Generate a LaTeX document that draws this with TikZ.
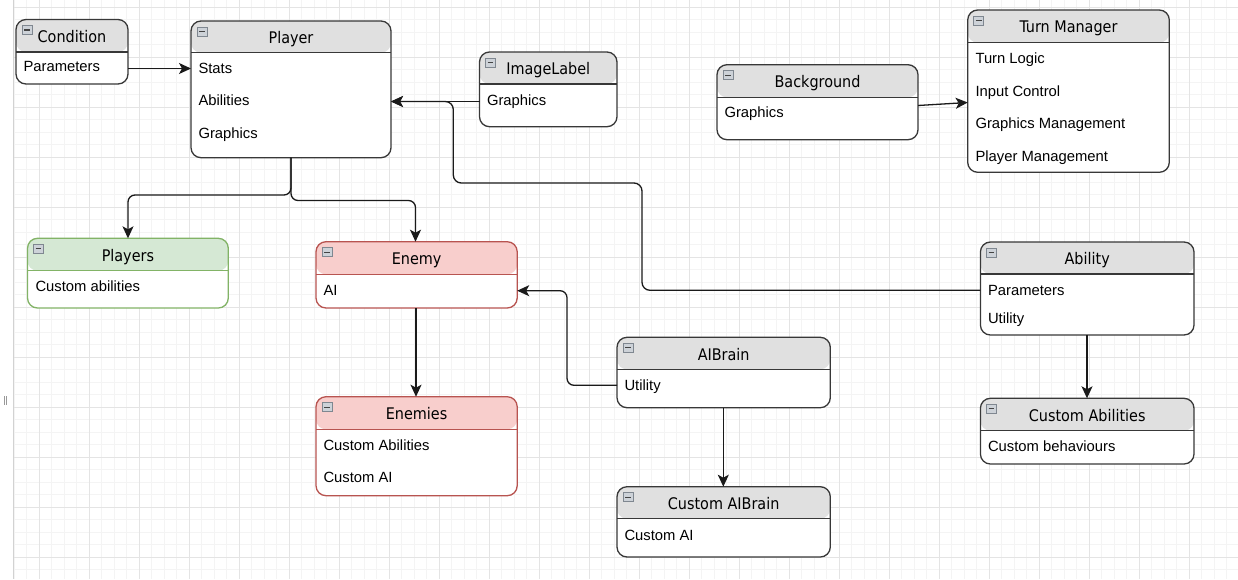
\documentclass[tikz,border=0pt]{standalone}
\usepackage{fontspec}
\setmainfont{Liberation Sans}
\newfontfamily\hdrfont{DejaVu Sans Condensed}
\usetikzlibrary{arrows.meta}
\definecolor{bordc}{HTML}{383838}
\definecolor{hdrgray}{HTML}{E0E0E0}
\definecolor{grnfill}{HTML}{D5E8D4}
\definecolor{grnline}{HTML}{82B366}
\definecolor{redfill}{HTML}{F8CECC}
\definecolor{redline}{HTML}{B85450}
\definecolor{gridmaj}{HTML}{E4E4E4}
\definecolor{gridmin}{HTML}{F4F4F4}
\definecolor{icfill}{HTML}{CDD2D8}
\definecolor{icline}{HTML}{7F8790}
\definecolor{icminus}{HTML}{444444}
\definecolor{connc}{HTML}{1A1A1A}
\tikzset{
  umlbody/.style={rectangle, rounded corners=10pt, fill=white, line width=1.3pt, inner sep=0pt, outer sep=0pt},
  umltitle/.style={inner sep=0pt, outer sep=0pt, font=\hdrfont\fontsize{16}{18}\selectfont, text=black},
  umlitem/.style={inner sep=0pt, outer sep=0pt, font=\fontsize{14.8}{17}\selectfont, text=black},
  umlicon/.style={rectangle, minimum width=10pt, minimum height=9pt, inner sep=0pt, fill=icfill, draw=icline, line width=0.8pt,
    path picture={\draw[color=icminus, line width=1.3pt] ([xshift=2.2pt]path picture bounding box.west) -- ([xshift=-2.2pt]path picture bounding box.east);}},
  conn/.style={draw=connc, line width=1.3pt, -{Stealth[length=12pt,width=11pt,inset=3pt]}},
  plainconn/.style={draw=connc, line width=1.3pt},
}
\newcommand\umlbox[9]{%
  \pgfmathsetmacro\ubw{#4-#2}%
  \pgfmathsetmacro\ubh{#5-#3}%
  \pgfmathsetmacro\ubhh{#6-#3}%
  \pgfmathsetmacro\ubcx{(#2+#4)/2}%
  \pgfmathsetmacro\ubcy{(#3+#5)/2}%
  \node[umlbody, draw=#9, minimum width=\ubw pt, minimum height=\ubh pt,
    path picture={\fill[#8] (path picture bounding box.north west) rectangle ([yshift=-\ubhh pt]path picture bounding box.north east);
      \draw[#9, line width=1.3pt] ([yshift=-\ubhh pt]path picture bounding box.north west) -- ([yshift=-\ubhh pt]path picture bounding box.north east);}]
    (#1) at (\ubcx,\ubcy) {};
  \node[umltitle, anchor=base] (#1-t) at (\ubcx, #3+22.7) {#7};
  \node[umlicon] (#1-i) at (#2+11, #3+10.5) {};
}
\newcommand\uitem[4]{\node[umlitem, anchor=base west] (#1) at (#2,#3) {#4};}
\begin{document}
\begin{tikzpicture}[x=1pt,y=-1pt]
\useasboundingbox (0,0) rectangle (1238,579);
\fill[white] (0,0) rectangle (1238,579);
% grid
\foreach \k in {0,...,97} {\draw[gridmin, line width=1pt] ({14.3+12.5*\k},0) -- ({14.3+12.5*\k},579);}
\foreach \k in {0,...,46} {\draw[gridmin, line width=1pt] (13.3,{7.3+12.5*\k}) -- (1238,{7.3+12.5*\k});}
\foreach \k in {0,...,23} {\draw[gridmaj, line width=1pt] ({39.3+50*\k},0) -- ({39.3+50*\k},579);}
\foreach \k in {0,...,11} {\draw[gridmaj, line width=1pt] (13.3,{7.3+50*\k}) -- (1238,{7.3+50*\k});}
\draw[color=gray!35, line width=1pt] (13.3,0) -- (13.3,579);
% small handle at left edge
\draw[color=gray!80, line width=0.8pt] (4.3,396) -- (4.3,405) (6.5,396) -- (6.5,405);

% boxes
\umlbox{cond}{16}{19.5}{128}{84}{52}{Condition}{hdrgray}{bordc}
\uitem{condpar}{23.5}{71.7}{Parameters}

\umlbox{player}{191}{21}{391}{157.7}{52.7}{Player}{hdrgray}{bordc}
\uitem{pstats}{198.5}{73.3}{Stats}
\uitem{pabil}{198.5}{105.8}{Abilities}
\uitem{pgraph}{198.5}{138.2}{Graphics}

\umlbox{ilabel}{479.5}{52}{617}{126.7}{84}{ImageLabel}{hdrgray}{bordc}
\uitem{ilgraph}{487}{105}{Graphics}

\umlbox{bg}{717}{64.7}{918}{139.7}{97.3}{Background}{hdrgray}{bordc}
\uitem{bggraph}{724.5}{117.3}{Graphics}

\umlbox{tm}{967.7}{10}{1169.3}{172.3}{42.7}{Turn Manager}{hdrgray}{bordc}
\uitem{tm1}{975.5}{63.3}{Turn Logic}
\uitem{tm2}{975.5}{96}{Input Control}
\uitem{tm3}{975.5}{128.3}{Graphics Management}
\uitem{tm4}{975.5}{161}{Player Management}

\umlbox{players}{27.5}{238.3}{228.3}{308}{270.7}{Players}{grnfill}{grnline}
\uitem{plca}{35.5}{291}{Custom abilities}

\umlbox{enemy}{316}{241.7}{517.2}{308}{274.3}{Enemy}{redfill}{redline}
\uitem{enai}{323.5}{295}{AI}

\umlbox{enemies}{316}{396.7}{517.2}{495.7}{429.3}{Enemies}{redfill}{redline}
\uitem{enca}{323.5}{450}{Custom Abilities}
\uitem{encai}{323.5}{482.3}{Custom AI}

\umlbox{aib}{617}{337.3}{830.3}{407.7}{369.3}{AIBrain}{hdrgray}{bordc}
\uitem{aibut}{624.5}{390.7}{Utility}

\umlbox{caib}{617}{486.7}{830.3}{557}{518.7}{Custom AIBrain}{hdrgray}{bordc}
\uitem{caibai}{624.5}{540}{Custom AI}

\umlbox{ability}{980.4}{242}{1194}{335}{274}{Ability}{hdrgray}{bordc}
\uitem{abpar}{988}{295}{Parameters}
\uitem{abut}{988}{323.3}{Utility}

\umlbox{cab}{980.4}{398.3}{1194}{464}{430.7}{Custom Abilities}{hdrgray}{bordc}
\uitem{cabcb}{988}{451.7}{Custom behaviours}

% connectors
\draw[conn] (cond.east |- 0,68.5) -- (player.west |- 0,68.5);
\draw[conn] (ilabel.west |- 0,101.5) -- (player.east |- 0,101.5);
\draw[conn, rounded corners=8pt] (ability.west |- 0,290.3) -- (642,290.3) -- (642,183) -- (453.3,183) -- (453.3,101.5) -- (player.east |- 0,101.5);
\draw[conn] (bg.east |- 0,105.5) -- (tm.west |- 0,102.5);
\draw[conn, rounded corners=7pt] (player.south) -- (291,195) -- (128,195) -- (players.north -| 128,0);
\draw[conn, rounded corners=7pt] (player.south) -- (291,200.5) -- (415.5,200.5) -- (enemy.north -| 415.5,0);
\draw[conn] (enemy.south -| 416,0) -- (enemies.north -| 416,0);
\draw[conn, rounded corners=7pt] (aib.west |- 0,385.3) -- (567,385.3) -- (567,290.7) -- (enemy.east |- 0,290.7);
\draw[conn] (aib.south -| 723.3,0) -- (caib.north -| 723.3,0);
\draw[conn] (ability.south -| 1087,0) -- (cab.north -| 1087,0);
\end{tikzpicture}
\end{document}
